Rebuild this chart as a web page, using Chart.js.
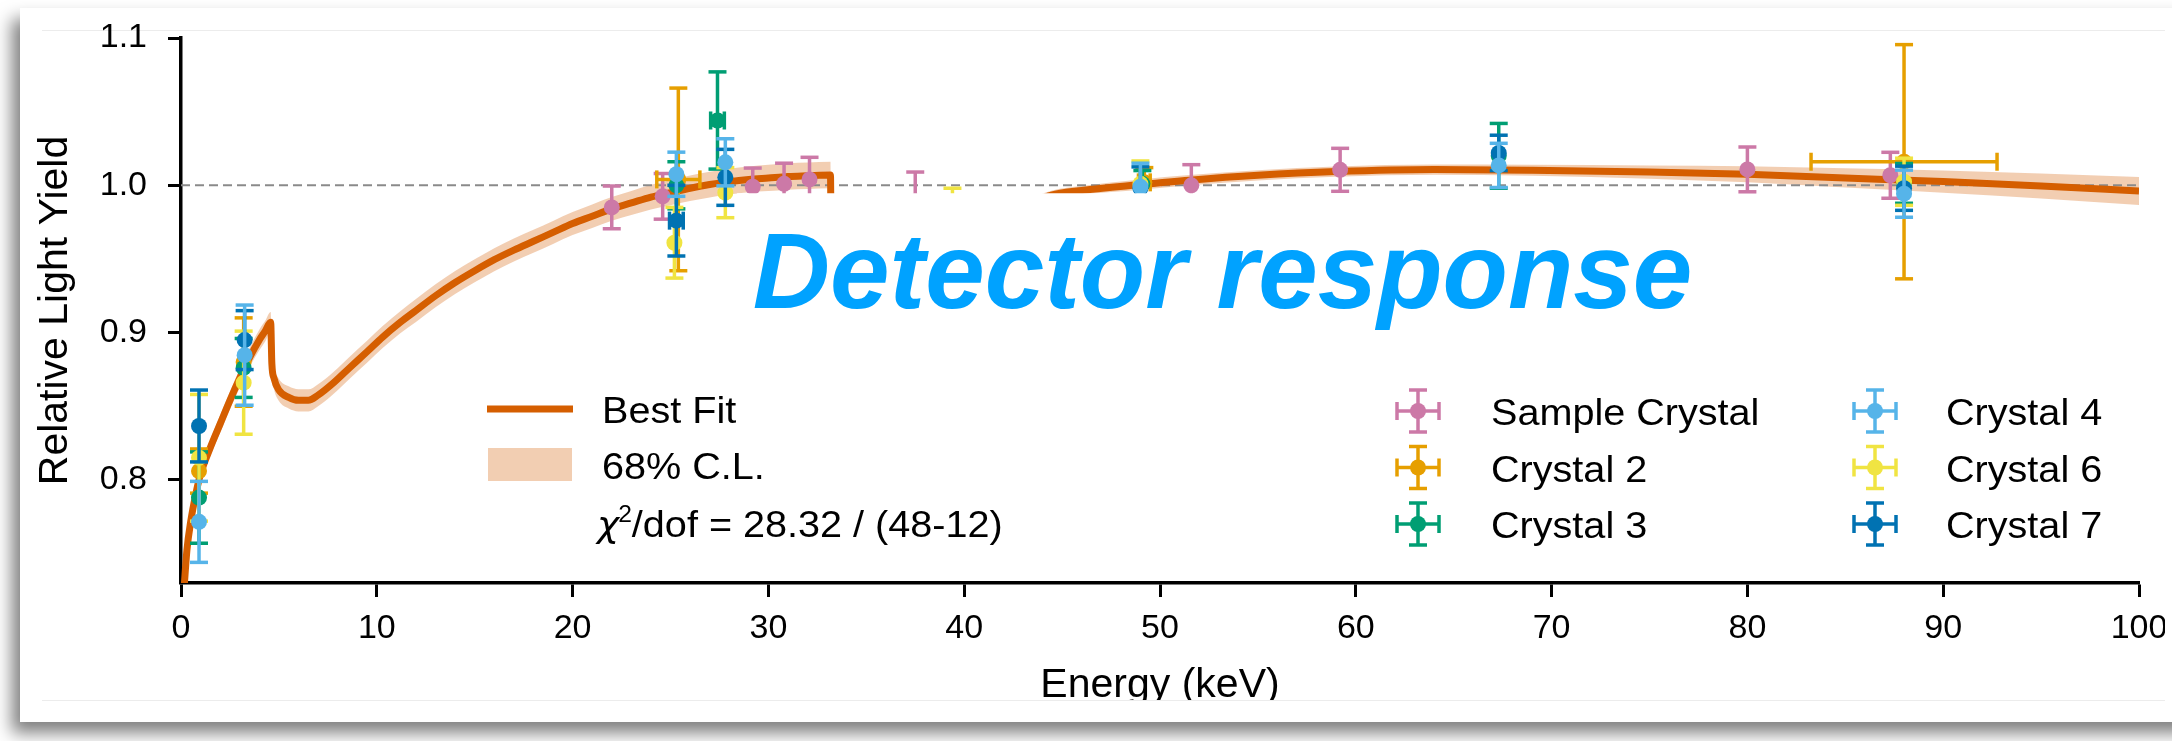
<!DOCTYPE html>
<html>
<head>
<meta charset="utf-8">
<title>Relative light yield vs energy</title>
<script src="https://cdn.jsdelivr.net/npm/chart.js@4.4.1/dist/chart.umd.min.js"></script>
<style>
  html, body { margin: 0; padding: 0; background: #fff; overflow: hidden; }
  body { width: 2172px; height: 741px; position: relative; }
  #card { position: absolute; left: 20px; top: 8px; width: 2230px; height: 714px; background: #fff;
          box-shadow: -8px 11px 16px rgba(0, 0, 0, 0.5); }
  .edge { position: absolute; left: 22px; width: 2123px; height: 1px; background: #ececec; }
  #plot { position: absolute; left: 0; top: 0; width: 2145px; height: 692px; overflow: hidden; }
  #plot canvas { display: block; }
</style>
</head>
<body>
<div id="card">
  <div class="edge" style="top:22px"></div>
  <div class="edge" style="top:692px"></div>
  <div id="plot"><canvas id="lyChart" width="2145" height="720"></canvas></div>
</div>
<script>
// ---- best fit curve (energy in keV, relative LY, 68% band half-width) ----
const fitE = [0.1, 0.3, 0.5, 0.75, 1.0, 1.5, 2.0, 2.5, 3.0, 3.5, 4.0, 4.3, 4.58,
  4.64, 4.75, 5.0, 5.5, 6.0, 6.5, 7.0, 7.8, 8.6, 9.5, 10.3, 11.2,
  12, 13, 14, 15, 16, 17, 18, 19, 20,
  21, 22, 23, 24, 25, 26, 27, 28, 29, 30, 31, 32, 33.17,
  33.22, 35, 37, 39, 41, 43,
  44.5, 46, 49, 51.5, 55, 59, 64, 69,
  75, 80, 85, 90, 95, 100];
const fitY = [0.715, 0.752, 0.772, 0.79, 0.804, 0.822, 0.838, 0.854, 0.869, 0.883, 0.895, 0.901, 0.907,
  0.879, 0.869, 0.861, 0.856, 0.854, 0.854, 0.8575, 0.866, 0.876, 0.887, 0.897, 0.907,
  0.915, 0.925, 0.934, 0.942, 0.9495, 0.956, 0.962, 0.968, 0.974,
  0.979, 0.984, 0.988, 0.992, 0.995, 0.998, 1.0005, 1.0025, 1.004, 1.005, 1.006, 1.0065, 1.007,
  0.93, 0.943, 0.955, 0.966, 0.976, 0.986,
  0.9935, 0.9965, 1.0005, 1.0035, 1.0068, 1.0093, 1.0107, 1.0102,
  1.009, 1.0075, 1.005, 1.0025, 0.9995, 0.9962];
const fitBand = [0.005, 0.005, 0.005, 0.005, 0.005, 0.0055, 0.006, 0.006, 0.0065, 0.0065, 0.007, 0.007, 0.007,
  0.0075, 0.0075, 0.0075, 0.0075, 0.0075, 0.0075, 0.0075, 0.0075, 0.0075, 0.0075, 0.0075, 0.0075,
  0.0078, 0.0078, 0.0078, 0.0078, 0.0078, 0.0078, 0.0078, 0.0078, 0.0078,
  0.008, 0.008, 0.0082, 0.0084, 0.0085, 0.0086, 0.0087, 0.0088, 0.0088, 0.0089, 0.009, 0.009, 0.009,
  0.005, 0.004, 0.004, 0.0035, 0.003, 0.003,
  0.003, 0.003, 0.0035, 0.0035, 0.0035, 0.0035, 0.0035, 0.0038,
  0.0045, 0.0055, 0.0065, 0.0075, 0.0085, 0.0095];

// ---- measurements per crystal ----
const sampleE   = [22.0, 24.6, 29.2, 30.8, 32.1, 37.5, 51.6, 59.2, 80.0, 87.3];
const sampleY   = [0.985, 0.9925, 0.999, 1.001, 1.004, 0.989, 1.0, 1.0105, 1.0108, 1.0068];
const sampleErr = [0.0145, 0.0155, 0.0127, 0.014, 0.015, 0.02, 0.014, 0.0146, 0.0152, 0.0156];
const sampleXErr = [0, 0, 0, 0, 0, 0, 0, 0, 0, 0];

const c2E   = [0.92, 3.2, 25.4, 49.2, 88.0];
const c2Y   = [0.806, 0.88, 1.004, 1.002, 1.016];
const c2Err = [0.015, 0.03, 0.062, 0.010, 0.0795];
const c2XErr = [0, 0, 1.1, 0.3, 4.75];

const c3E   = [0.92, 3.2, 25.3, 27.4, 49.1, 67.3, 88.0];
const c3Y   = [0.788, 0.876, 1.0, 1.044, 1.001, 1.02, 1.0013];
const c3Err = [0.031, 0.02, 0.016, 0.033, 0.009, 0.022, 0.0135];
const c3XErr = [0, 0, 0, 0.35, 0, 0, 0];

const c4E   = [0.92, 3.25, 25.3, 27.8, 49.0, 67.3, 88.0];
const c4Y   = [0.7715, 0.8847, 1.0075, 1.0156, 0.999, 1.0135, 0.9943];
const c4Err = [0.0275, 0.034, 0.015, 0.016, 0.016, 0.015, 0.016];
const c4XErr = [0, 0, 0, 0, 0, 0, 0];

const c6E   = [0.92, 3.2, 25.2, 27.8, 39.4, 49.0, 88.0];
const c6Y   = [0.815, 0.866, 0.961, 0.995, 0.984, 1.001, 1.0024];
const c6Err = [0.043, 0.035, 0.024, 0.017, 0.014, 0.0155, 0.016];
const c6XErr = [0, 0, 0, 0, 0, 0, 0];

const c7E   = [0.92, 3.25, 25.3, 27.8, 49.0, 67.3, 88.0];
const c7Y   = [0.8366, 0.8949, 0.976, 1.0054, 0.998, 1.022, 0.998];
const c7Err = [0.0244, 0.02, 0.024, 0.019, 0.0145, 0.012, 0.015];
const c7XErr = [0, 0, 0.35, 0, 0, 0, 0];

const xTicks = [0, 10, 20, 30, 40, 50, 60, 70, 80, 90, 100];
const yTicks = [0.8, 0.9, 1.0, 1.1];
const unityE = [0, 100];
const unityY = [1.0, 1.0];

const FONT = '"Liberation Sans", Arial, Helvetica, sans-serif';
const fitColor = '#d55e00';
const bandColor = 'rgba(213, 94, 0, 0.3)';

// legend order; z is the stacking order of the markers (higher = drawn later)
const crystals = [
  { label: 'Sample Crystal', color: '#cc79a7', e: sampleE, y: sampleY, err: sampleErr, xerr: sampleXErr, z: 0 },
  { label: 'Crystal 2', color: '#e69f00', e: c2E, y: c2Y, err: c2Err, xerr: c2XErr, z: 1 },
  { label: 'Crystal 3', color: '#009e73', e: c3E, y: c3Y, err: c3Err, xerr: c3XErr, z: 2 },
  { label: 'Crystal 4', color: '#56b4e9', e: c4E, y: c4Y, err: c4Err, xerr: c4XErr, z: 5 },
  { label: 'Crystal 6', color: '#f0e442', e: c6E, y: c6Y, err: c6Err, xerr: c6XErr, z: 3 },
  { label: 'Crystal 7', color: '#0072b2', e: c7E, y: c7Y, err: c7Err, xerr: c7XErr, z: 4 }
];

const pts = (xs, ys) => xs.map((x, i) => ({ x, y: ys[i] }));

const lineBase = { pointRadius: 0, fill: false, cubicInterpolationMode: 'monotone', clip: 0 };
const datasets = [
  { ...lineBase, label: 'band lo', data: pts(fitE, fitY.map((v, i) => v - fitBand[i])),
    borderColor: 'transparent', borderWidth: 0, order: 20 },
  { ...lineBase, label: '68% C.L.', data: pts(fitE, fitY.map((v, i) => v + fitBand[i])),
    borderColor: 'transparent', borderWidth: 0, backgroundColor: bandColor, fill: '-1', order: 19 },
  { label: 'unity', data: pts(unityE, unityY), borderColor: '#8a8a8a', borderWidth: 2,
    borderDash: [9, 5], pointRadius: 0, fill: false, order: 18, clip: 0 },
  { ...lineBase, label: 'Best Fit', data: pts(fitE, fitY), borderColor: fitColor, borderWidth: 7,
    borderJoinStyle: 'round', order: 17 }
];
crystals.forEach(c => {
  datasets.push({
    label: c.label, data: pts(c.e, c.y), yErr: c.err, xErr: c.xerr,
    showLine: false, pointRadius: 8, pointBorderWidth: 0,
    pointBackgroundColor: c.color, backgroundColor: c.color, borderColor: c.color,
    order: 6 - c.z, clip: false
  });
});

// error bars with caps, drawn just before each crystal's markers
function drawBar(ctx, x0, y0, x1, y1) { ctx.beginPath(); ctx.moveTo(x0, y0); ctx.lineTo(x1, y1); ctx.stroke(); }
const CAP = 9;
const errorBars = {
  id: 'errorBars',
  beforeDatasetDraw(chart, args) {
    const ds = chart.data.datasets[args.index];
    if (!ds.yErr) return;
    const { ctx, scales: { x, y } } = chart;
    ctx.save();
    ctx.strokeStyle = ds.backgroundColor; ctx.lineWidth = 3.5; ctx.lineCap = 'butt';
    ds.data.forEach((p, i) => {
      const px = x.getPixelForValue(p.x), py = y.getPixelForValue(p.y);
      const yt = y.getPixelForValue(p.y + ds.yErr[i]), yb = y.getPixelForValue(p.y - ds.yErr[i]);
      drawBar(ctx, px, yt, px, yb);
      drawBar(ctx, px - CAP, yt, px + CAP, yt);
      drawBar(ctx, px - CAP, yb, px + CAP, yb);
      const xe = ds.xErr[i];
      if (xe > 0) {
        const xl = x.getPixelForValue(p.x - xe), xr = x.getPixelForValue(p.x + xe);
        drawBar(ctx, xl, py, xr, py);
        drawBar(ctx, xl, py - CAP, xl, py + CAP);
        drawBar(ctx, xr, py - CAP, xr, py + CAP);
      }
    });
    ctx.restore();
  }
};

// heading on a white panel across the middle of the plot
const headingBox = { x0: 28.4, x1: 78, yTop: 0.9946, yBottom: 0.89, textX: 29.2, textBase: 0.9167 };
const heading = {
  id: 'heading',
  afterDatasetsDraw(chart) {
    const { ctx, scales: { x, y } } = chart;
    const l = x.getPixelForValue(headingBox.x0), r = x.getPixelForValue(headingBox.x1);
    const t = y.getPixelForValue(headingBox.yTop), b = y.getPixelForValue(headingBox.yBottom);
    ctx.save();
    ctx.fillStyle = '#fff';
    ctx.fillRect(l, t, r - l, b - t);
    ctx.fillStyle = '#00a2ff';
    ctx.font = 'italic bold 107px ' + FONT;
    ctx.textBaseline = 'alphabetic';
    ctx.fillText('Detector response', x.getPixelForValue(headingBox.textX), y.getPixelForValue(headingBox.textBase));
    ctx.restore();
  }
};

// legend text is set a little wide, like the axis lettering of the source figure
const SX = 1.07;
function wideText(ctx, text, x, y) {
  ctx.save(); ctx.translate(x, y); ctx.scale(SX, 1); ctx.fillText(text, 0, 0); ctx.restore();
  return ctx.measureText(text).width * SX;
}

// two legend blocks: fit + band + chi2 on the left, crystals in 2 columns on the right
function errMarker(ctx, cx, cy, color) {
  ctx.strokeStyle = color; ctx.fillStyle = color; ctx.lineWidth = 3.5;
  drawBar(ctx, cx, cy - 21, cx, cy + 21);
  drawBar(ctx, cx - 21, cy, cx + 21, cy);
  drawBar(ctx, cx - CAP, cy - 21, cx + CAP, cy - 21);
  drawBar(ctx, cx - CAP, cy + 21, cx + CAP, cy + 21);
  drawBar(ctx, cx - 21, cy - CAP, cx - 21, cy + CAP);
  drawBar(ctx, cx + 21, cy - CAP, cx + 21, cy + CAP);
  ctx.beginPath(); ctx.arc(cx, cy, 8, 0, Math.PI * 2); ctx.fill();
}
const legendBlocks = {
  id: 'legendBlocks',
  afterDraw(chart) {
    const ctx = chart.ctx;
    ctx.save();
    ctx.textBaseline = 'alphabetic';
    ctx.font = '37px ' + FONT;
    // left block
    ctx.fillStyle = fitColor;
    ctx.fillRect(467, 397.5, 86, 7);
    ctx.fillStyle = bandColor;
    ctx.fillRect(468, 440, 84, 33);
    ctx.fillStyle = '#000';
    wideText(ctx, datasets[3].label, 582, 415);
    wideText(ctx, datasets[1].label, 582, 471);
    let cx = 577;
    ctx.font = 'italic 35px "DejaVu Sans"';
    cx += wideText(ctx, 'χ', cx, 529) - 1;
    ctx.font = '23px ' + FONT;
    cx += wideText(ctx, '2', cx, 514);
    ctx.font = '37px ' + FONT;
    wideText(ctx, '/dof = 28.32 / (48-12)', cx, 529);
    // right block
    crystals.forEach((c, i) => {
      const col = Math.floor(i / 3), row = i % 3;
      const mx = col ? 1855 : 1398, my = 403 + row * 56.5;
      errMarker(ctx, mx, my, c.color);
      ctx.fillStyle = '#000';
      ctx.font = '37px ' + FONT;
      wideText(ctx, c.label, col ? 1926 : 1471, my + 14);
    });
    ctx.restore();
  }
};

const axisCommon = {
  type: 'linear',
  grid: { drawOnChartArea: false, drawTicks: true, tickWidth: 3, tickColor: '#000' },
  border: { display: true, color: '#000', width: 3.5 }
};

new Chart(document.getElementById('lyChart').getContext('2d'), {
  type: 'line',
  data: { datasets },
  options: {
    responsive: false, animation: false, events: [],
    layout: { padding: { left: 0, right: 26, top: 30, bottom: 0 } },
    plugins: { legend: { display: false }, tooltip: { enabled: false } },
    scales: {
      x: {
        ...axisCommon, min: 0, max: 100,
        grid: { ...axisCommon.grid, tickLength: 14 },
        ticks: { color: '#000', font: { family: FONT, size: 34 }, padding: 11, maxRotation: 0, autoSkip: false },
        title: { display: true, text: 'Energy (keV)', color: '#000', font: { family: FONT, size: 41 }, padding: { top: 0, bottom: 18 } },
        afterBuildTicks: s => { s.ticks = xTicks.map(v => ({ value: v })); },
        afterFit: s => { s.height = 145; s.paddingLeft = 0; s.paddingRight = 0; }
      },
      y: {
        ...axisCommon, min: 0.73, max: 1.1,
        grid: { ...axisCommon.grid, tickLength: 13 },
        ticks: { color: '#000', font: { family: FONT, size: 34 }, padding: 21, callback: v => v.toFixed(1) },
        title: { display: true, text: 'Relative Light Yield', color: '#000', font: { family: FONT, size: 41 }, padding: { top: 11, bottom: 0 } },
        afterBuildTicks: s => { s.ticks = yTicks.map(v => ({ value: v })); },
        afterFit: s => { s.width = 161; s.paddingTop = 0; s.paddingBottom = 0; }
      }
    }
  },
  plugins: [errorBars, heading, legendBlocks]
});
</script>
</body>
</html>
